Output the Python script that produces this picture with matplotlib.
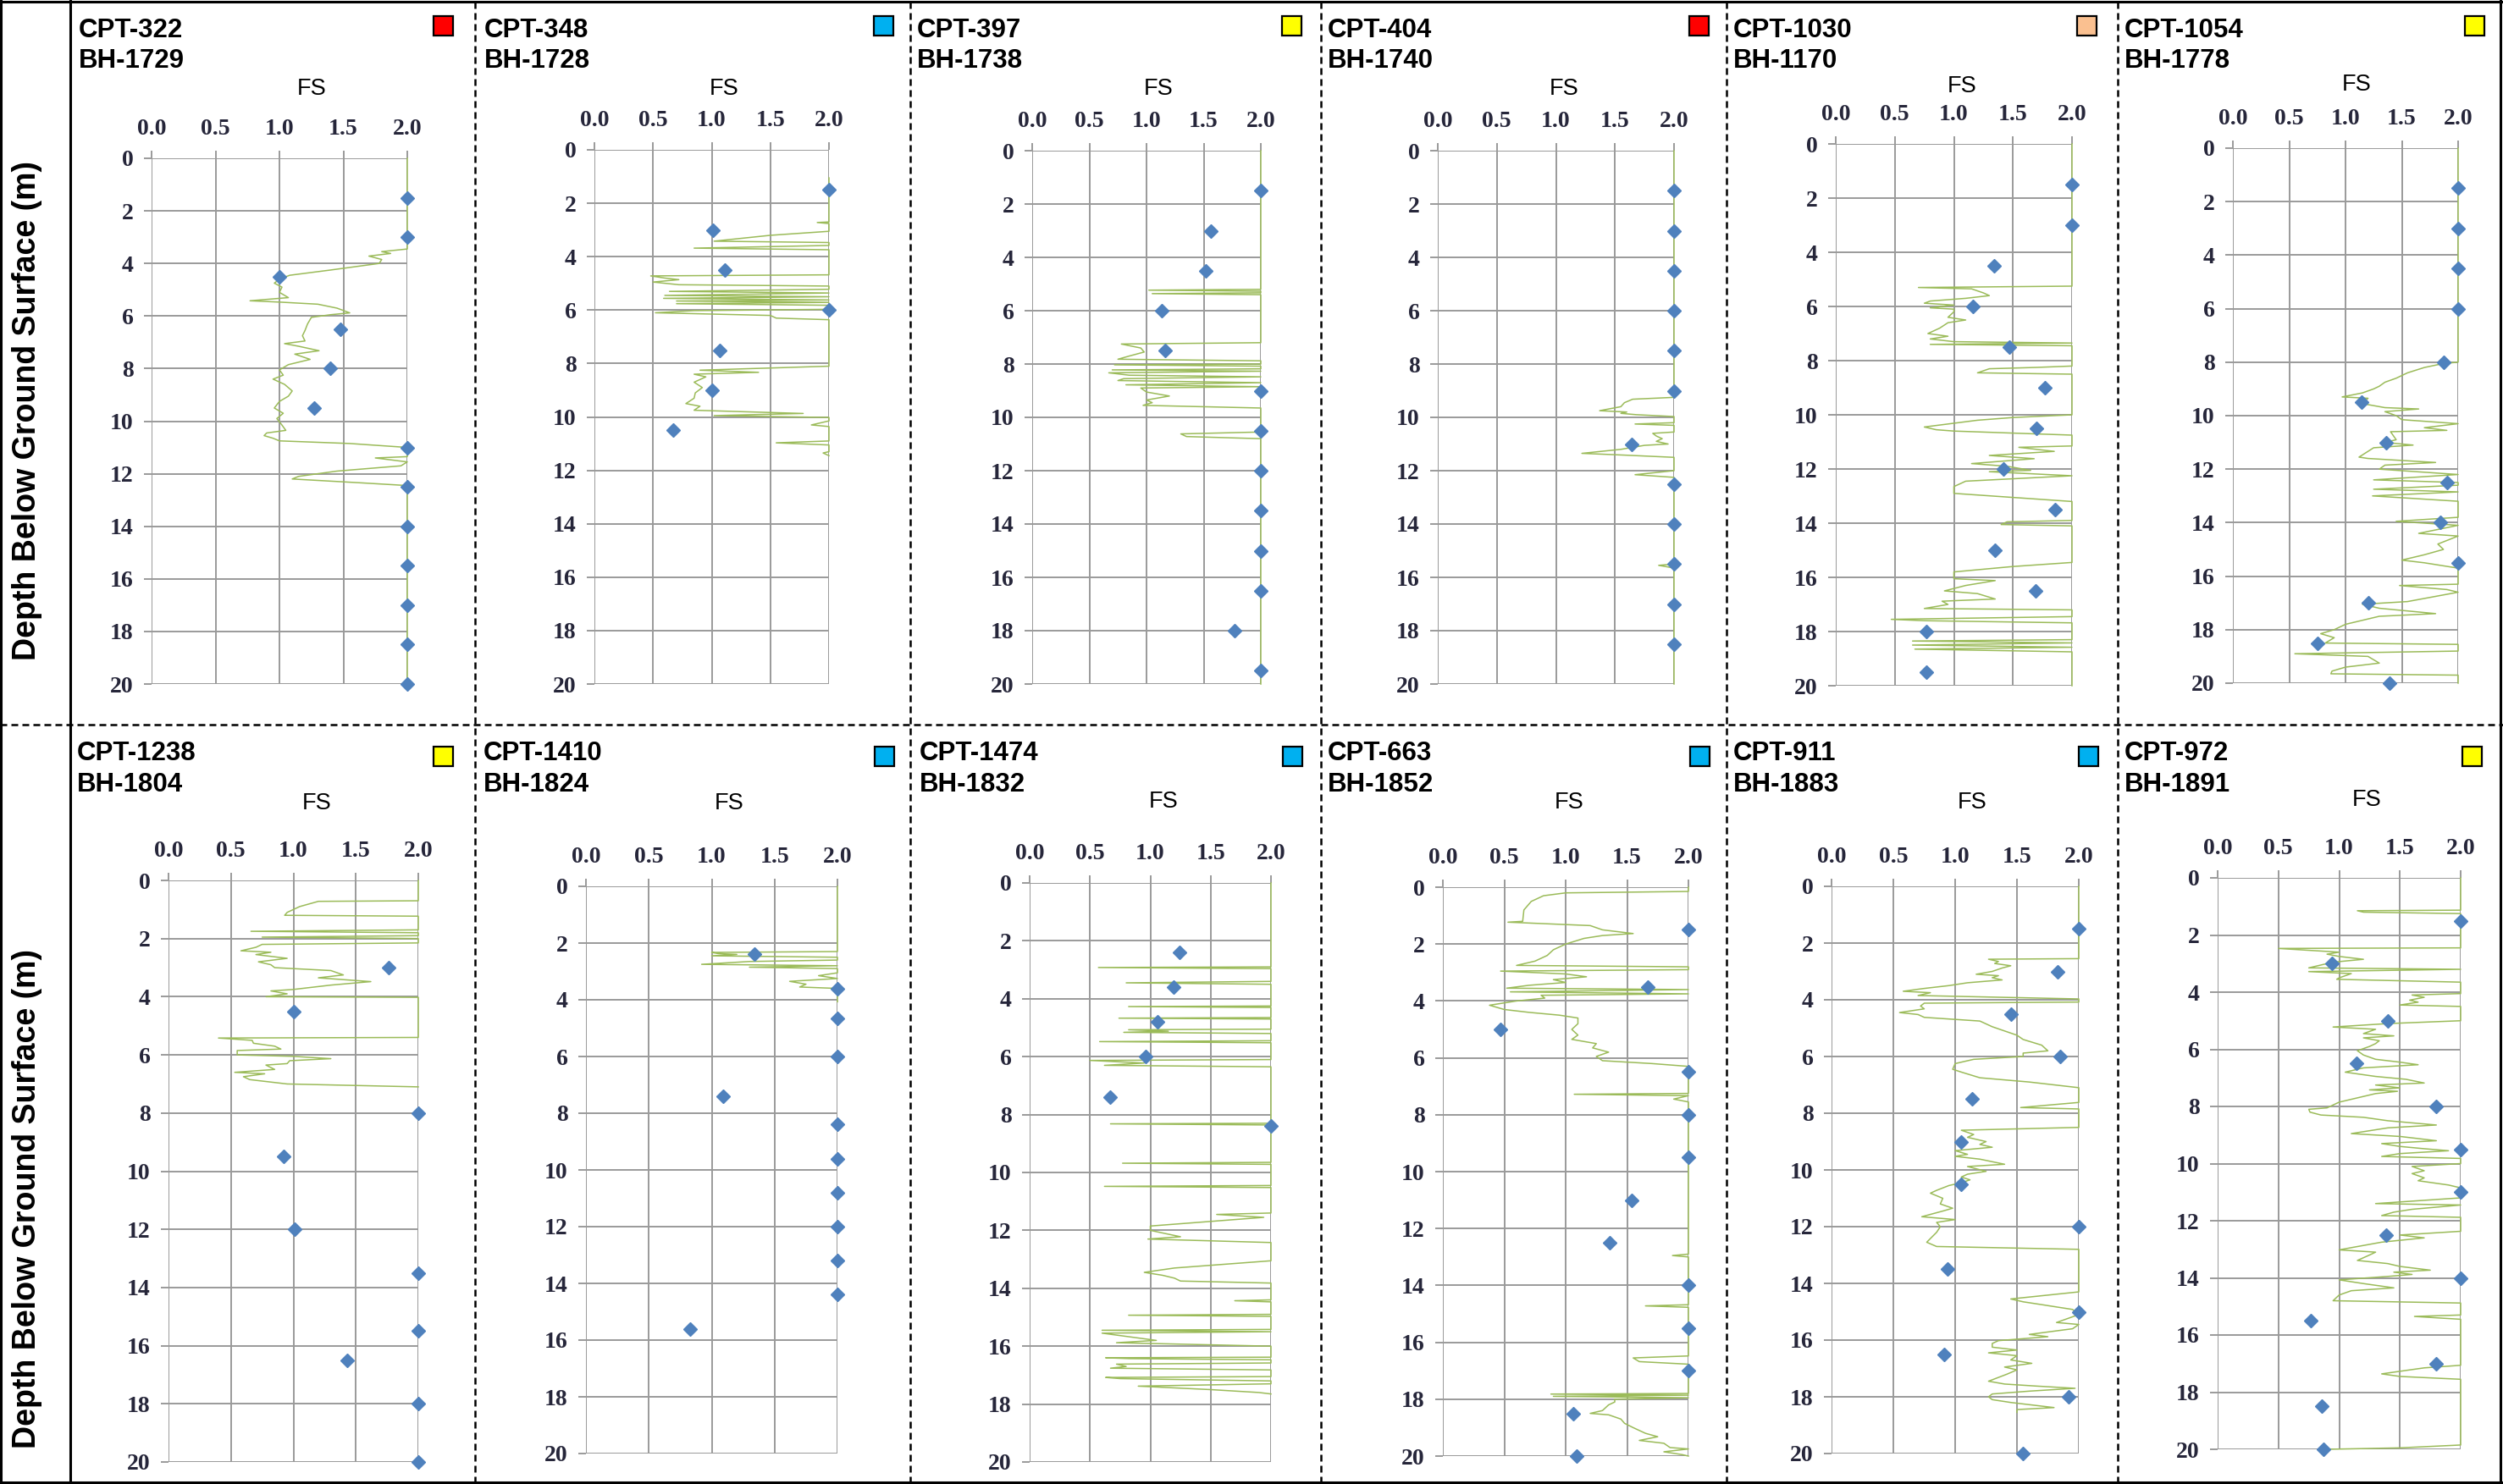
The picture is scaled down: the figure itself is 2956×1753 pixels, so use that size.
"""FS profiles: CPT-based factor of safety vs depth, with borehole (BH) points."""
import matplotlib

matplotlib.use("Agg")
import matplotlib.pyplot as plt
from matplotlib.lines import Line2D
from matplotlib.patches import Rectangle

W, H = 2956, 1753

# ---- data: CPT profiles as (depth m, FS) and borehole points ----
CPT322 = [(0, 2.0), (3.45, 2.0), (3.55, 1.80), (3.62, 1.87), (3.72, 1.70), (3.85, 1.80), (4.0, 1.78),
          (4.25, 1.40), (4.45, 1.08), (4.6, 1.0), (4.75, 0.96), (4.9, 1.02), (5.1, 1.0), (5.3, 1.07),
          (5.42, 0.77), (5.47, 1.0), (5.55, 1.30), (5.7, 1.45), (5.88, 1.55), (5.95, 1.40), (6.05, 1.25),
          (6.3, 1.22), (6.55, 1.20), (6.75, 1.18), (6.95, 1.20), (7.05, 1.04), (7.15, 1.15), (7.32, 1.31),
          (7.45, 1.12), (7.65, 1.24), (7.85, 1.07), (8.05, 1.0), (8.25, 1.03), (8.4, 0.95), (8.6, 1.04),
          (8.85, 1.10), (9.05, 1.07), (9.25, 1.0), (9.5, 0.96), (9.7, 1.03), (9.9, 0.98), (10.15, 1.02),
          (10.35, 1.05), (10.45, 0.90), (10.55, 0.88), (10.65, 0.95), (10.75, 1.0), (10.85, 1.55),
          (11.0, 2.0), (11.35, 2.0), (11.4, 1.75), (11.55, 2.0), (11.7, 1.95), (11.9, 1.45), (12.1, 1.15),
          (12.2, 1.10), (12.35, 1.65), (12.45, 2.0), (20.0, 2.0)]
BH1729_D = [1.5, 3.0, 4.5, 6.5, 8.0, 9.5, 11.0, 12.5, 14.0, 15.5, 17.0, 18.5, 20.0]
BH1729_FS = [2.0, 2.0, 1.0, 1.48, 1.40, 1.27, 2.0, 2.0, 2.0, 2.0, 2.0, 2.0, 2.0]

CPT348 = [(1.05, 2.0), (2.7, 2.0), (2.72, 1.9), (2.76, 2.0), (3.05, 2.0), (3.2, 1.5), (3.42, 1.02),
          (3.47, 2.0), (3.58, 2.0), (3.68, 0.85), (3.74, 2.0), (4.68, 2.0), (4.72, 0.48), (4.8, 0.6),
          (4.86, 0.72), (4.95, 0.5), (5.05, 0.72), (5.1, 2.0), (5.22, 2.0), (5.3, 0.64), (5.36, 2.0),
          (5.45, 0.6), (5.5, 2.0), (5.56, 0.59), (5.62, 2.0), (5.66, 0.7), (5.71, 2.0), (5.76, 0.7),
          (5.82, 2.0), (5.97, 2.0), (6.02, 0.85), (6.1, 0.52), (6.2, 1.5), (6.3, 1.55), (6.36, 2.0),
          (8.1, 2.0), (8.25, 0.9), (8.33, 1.4), (8.4, 0.85), (8.5, 0.95), (8.7, 0.85), (8.9, 0.92),
          (9.1, 0.86), (9.3, 0.85), (9.5, 0.78), (9.6, 0.9), (9.75, 0.85), (9.87, 1.78), (9.95, 1.02),
          (10.02, 2.0), (10.15, 2.0), (10.3, 1.85), (10.36, 2.0), (10.9, 2.0), (10.97, 1.55), (11.05, 2.0),
          (11.3, 2.0), (11.35, 1.95), (11.45, 2.0)]
BH1728_D = [1.5, 3.0, 4.5, 6.0, 7.5, 9.0, 10.5]
BH1728_FS = [2.0, 1.01, 1.11, 2.0, 1.07, 1.0, 0.67]

CPT397 = [(0, 2.0), (5.2, 2.0), (5.23, 1.02), (5.27, 2.0), (5.33, 2.0), (5.36, 1.05), (5.4, 2.0),
          (7.2, 2.0), (7.25, 0.78), (7.4, 0.95), (7.55, 0.98), (7.7, 0.85), (7.82, 0.75), (7.88, 2.0),
          (8.0, 2.0), (8.03, 0.72), (8.08, 2.0), (8.18, 2.0), (8.22, 0.7), (8.27, 2.0), (8.33, 0.67),
          (8.42, 0.85), (8.48, 2.0), (8.55, 0.8), (8.62, 0.75), (8.7, 2.0), (8.78, 0.82), (8.85, 2.0),
          (8.9, 0.95), (9.05, 1.0), (9.2, 1.2), (9.35, 1.0), (9.45, 1.05), (9.55, 0.97), (9.65, 2.0),
          (10.55, 2.0), (10.62, 1.3), (10.72, 1.35), (10.8, 2.0), (20.0, 2.0)]
BH1738_D = [1.5, 3.0, 4.5, 6.0, 7.5, 9.0, 10.5, 12.0, 13.5, 15.0, 16.5, 18.0, 19.5]
BH1738_FS = [2.0, 1.56, 1.52, 1.13, 1.16, 2.0, 2.0, 2.0, 2.0, 2.0, 2.0, 1.77, 2.0]

CPT404 = [(0, 2.0), (9.25, 2.0), (9.32, 1.65), (9.45, 1.58), (9.6, 1.55), (9.75, 1.37), (9.8, 1.6),
          (9.85, 1.55), (9.9, 1.68), (9.97, 2.0), (10.2, 2.0), (10.25, 1.67), (10.3, 2.0), (10.55, 2.0),
          (10.6, 1.82), (10.7, 1.85), (10.8, 1.9), (10.9, 1.85), (11.0, 1.95), (11.05, 1.75), (11.2, 1.55),
          (11.35, 1.22), (11.42, 1.6), (11.5, 2.0), (12.0, 2.0), (12.15, 1.67), (12.25, 2.0), (15.5, 2.0),
          (15.55, 1.87), (15.65, 2.0), (20.0, 2.0)]
BH1740_D = [1.5, 3.0, 4.5, 6.0, 7.5, 9.0, 11.0, 12.5, 14.0, 15.5, 17.0, 18.5]
BH1740_FS = [2.0, 2.0, 2.0, 2.0, 2.0, 2.0, 1.64, 2.0, 2.0, 2.0, 2.0, 2.0]

CPT1030 = [(0, 2.0), (5.25, 2.0), (5.3, 0.7), (5.35, 1.15), (5.5, 1.25), (5.6, 1.3), (5.7, 1.1),
           (5.8, 0.8), (5.88, 0.75), (5.95, 1.0), (6.05, 0.8), (6.1, 1.0), (6.2, 1.0), (6.4, 0.95),
           (6.5, 1.1), (6.6, 0.95), (6.8, 0.88), (7.0, 0.78), (7.1, 0.95), (7.2, 0.8), (7.3, 1.0),
           (7.35, 2.0), (7.4, 0.8), (7.45, 2.0), (8.2, 2.0), (8.25, 1.7), (8.3, 1.3), (8.45, 1.2),
           (8.5, 2.0), (10.0, 2.0), (10.1, 1.5), (10.2, 1.2), (10.45, 0.75), (10.55, 0.85), (10.6, 1.0),
           (10.75, 2.0), (11.15, 2.0), (11.2, 1.55), (11.35, 1.85), (11.5, 1.3), (11.62, 1.68),
           (11.8, 1.15), (11.9, 1.45), (12.05, 1.65), (12.1, 1.3), (12.25, 2.0), (12.45, 1.1),
           (12.65, 1.0), (12.9, 1.0), (13.05, 1.5), (13.2, 2.0), (13.9, 2.0), (13.95, 1.45), (14.05, 1.4),
           (14.1, 2.0), (15.45, 2.0), (15.6, 1.5), (15.8, 1.0), (16.05, 1.0), (16.12, 1.35), (16.3, 1.1),
           (16.5, 0.92), (16.6, 1.2), (16.8, 1.35), (16.88, 0.9), (17.0, 0.95), (17.15, 0.75), (17.2, 2.0),
           (17.45, 2.0), (17.55, 0.47), (17.6, 0.75), (17.68, 2.0), (18.3, 2.0), (18.35, 0.65),
           (18.42, 2.0), (18.5, 0.65), (18.58, 2.0), (18.65, 0.67), (18.75, 2.0), (20.0, 2.0)]
BH1170_D = [1.5, 3.0, 4.5, 6.0, 7.5, 9.0, 10.5, 12.0, 13.5, 15.0, 16.5, 18.0, 19.5]
BH1170_FS = [2.0, 2.0, 1.34, 1.16, 1.47, 1.77, 1.70, 1.42, 1.86, 1.35, 1.69, 0.77, 0.77]

CPT1054 = [(0, 2.0), (8.0, 2.0), (8.05, 1.87), (8.2, 1.7), (8.4, 1.55), (8.6, 1.45), (8.75, 1.35),
           (8.9, 1.3), (9.0, 1.25), (9.15, 1.15), (9.3, 0.97), (9.35, 1.2), (9.55, 1.15), (9.7, 1.35),
           (9.75, 1.65), (9.85, 1.35), (10.0, 1.45), (10.15, 1.5), (10.3, 2.0), (10.45, 1.7), (10.55, 1.9),
           (10.6, 1.4), (10.9, 1.45), (11.0, 1.35), (11.1, 1.6), (11.2, 1.25), (11.55, 1.12), (11.6, 1.2),
           (11.75, 1.8), (11.85, 1.35), (12.0, 1.3), (12.2, 2.0), (12.4, 1.25), (12.5, 2.0), (12.6, 2.0),
           (12.75, 1.25), (12.85, 2.0), (13.0, 1.24), (13.2, 2.0), (13.8, 2.0), (13.95, 1.45), (14.1, 2.0),
           (14.4, 1.65), (14.5, 2.0), (14.8, 1.82), (15.0, 1.87), (15.2, 1.7), (15.4, 1.5), (15.5, 1.7),
           (15.7, 2.0), (16.3, 2.0), (16.35, 1.48), (16.5, 1.9), (16.6, 2.0), (16.95, 1.55), (17.05, 1.15),
           (17.2, 1.3), (17.4, 1.8), (17.5, 1.3), (17.8, 1.0), (18.0, 0.9), (18.15, 0.78), (18.3, 0.9),
           (18.5, 0.82), (18.55, 2.0), (18.8, 2.0), (18.9, 0.55), (19.0, 1.2), (19.25, 1.3), (19.4, 1.0),
           (19.55, 0.88), (19.65, 0.87), (19.7, 2.0), (20.0, 2.0)]
BH1778_D = [1.5, 3.0, 4.5, 6.0, 8.0, 9.5, 11.0, 12.5, 14.0, 15.5, 17.0, 18.5, 20.0]
BH1778_FS = [2.0, 2.0, 2.0, 2.0, 1.87, 1.14, 1.36, 1.90, 1.84, 2.0, 1.20, 0.75, 1.39]

CPT1238 = [(0, 2.0), (0.7, 2.0), (0.72, 1.2), (0.9, 1.05), (1.1, 0.95), (1.2, 0.93), (1.23, 2.0),
           (1.7, 2.0), (1.75, 0.66), (1.8, 2.0), (1.9, 2.0), (1.95, 0.75), (2.0, 2.0), (2.15, 2.0),
           (2.2, 0.75), (2.3, 0.7), (2.42, 0.58), (2.47, 0.82), (2.55, 0.7), (2.68, 0.95), (2.8, 0.72),
           (2.9, 0.82), (3.0, 0.85), (3.1, 1.3), (3.25, 1.4), (3.35, 1.2), (3.48, 1.62), (3.6, 1.3),
           (3.75, 1.0), (3.8, 0.82), (3.9, 0.95), (4.0, 0.78), (4.02, 2.0), (5.4, 2.0), (5.42, 0.4),
           (5.5, 0.67), (5.6, 0.68), (5.7, 0.85), (5.8, 0.9), (5.85, 0.55), (6.0, 0.55), (6.05, 1.0),
           (6.13, 1.3), (6.2, 0.97), (6.3, 0.95), (6.35, 0.78), (6.5, 0.85), (6.6, 0.53), (6.65, 0.77),
           (6.75, 0.6), (6.85, 0.65), (7.0, 0.95), (7.1, 2.0)]
BH1804_D = [3.0, 4.5, 8.0, 9.5, 12.0, 13.5, 15.5, 16.5, 18.0, 20.0]
BH1804_FS = [1.76, 1.0, 2.0, 0.92, 1.01, 2.0, 2.0, 1.43, 2.0, 2.0]

CPT1410 = [(0, 2.0), (2.3, 2.0), (2.33, 1.0), (2.37, 1.05), (2.4, 1.2), (2.45, 1.0), (2.5, 2.0),
           (2.6, 2.0), (2.65, 1.3), (2.75, 0.92), (2.8, 2.0), (2.85, 1.3), (2.9, 2.0), (3.05, 2.0),
           (3.15, 1.85), (3.25, 2.0), (3.35, 1.62), (3.45, 1.75), (3.55, 1.7), (3.6, 2.0), (4.07, 2.0)]
BH1824_D = [2.4, 3.6, 4.65, 6.0, 7.4, 8.4, 9.6, 10.8, 12.0, 13.2, 14.4, 15.6]
BH1824_FS = [1.34, 2.0, 2.0, 2.0, 1.09, 2.0, 2.0, 2.0, 2.0, 2.0, 2.0, 0.83]

CPT1474 = [(0, 2.0), (2.9, 2.0), (2.92, 0.57), (2.96, 2.0), (3.4, 2.0), (3.45, 0.8), (3.5, 2.0),
           (4.25, 2.0), (4.27, 0.82), (4.3, 2.0), (4.65, 2.0), (4.67, 0.74), (4.7, 2.0), (5.05, 2.0),
           (5.07, 0.82), (5.12, 1.15), (5.16, 0.78), (5.2, 2.0), (5.45, 2.0), (5.48, 0.58), (5.52, 2.0),
           (6.1, 2.0), (6.13, 0.5), (6.22, 0.95), (6.3, 0.62), (6.35, 2.0), (8.3, 2.0), (8.32, 0.67),
           (8.36, 2.0), (9.65, 2.0), (9.68, 0.77), (9.72, 2.0), (10.45, 2.0), (10.48, 0.62), (10.52, 2.0),
           (11.4, 2.0), (11.45, 1.55), (11.55, 1.94), (11.85, 1.0), (12.0, 1.0), (12.22, 1.25),
           (12.3, 0.98), (12.42, 2.0), (13.05, 2.0), (13.3, 1.2), (13.45, 0.95), (13.55, 1.1), (13.65, 1.2),
           (13.75, 1.25), (13.82, 2.0), (14.4, 2.0), (14.43, 1.7), (14.47, 2.0), (14.9, 2.0), (14.93, 0.82),
           (14.97, 2.0), (15.42, 2.0), (15.45, 0.6), (15.5, 2.0), (15.55, 0.6), (15.8, 1.05), (15.88, 0.72),
           (16.0, 2.0), (16.38, 2.0), (16.4, 0.63), (16.43, 0.83), (16.47, 2.0), (16.58, 2.0), (16.62, 0.72),
           (16.7, 0.8), (16.76, 0.67), (16.82, 2.0), (17.05, 2.0), (17.08, 0.63), (17.12, 0.75), (17.2, 2.0),
           (17.3, 2.0), (17.38, 0.9), (17.5, 1.5), (17.6, 1.9), (17.65, 2.0)]
BH1832_D = [2.4, 3.6, 4.8, 6.0, 7.4, 8.4]
BH1832_FS = [1.24, 1.19, 1.06, 0.96, 0.67, 2.0]

CPT663 = [(0, 2.0), (0.15, 2.0), (0.2, 1.0), (0.3, 0.82), (0.5, 0.72), (0.8, 0.66), (1.2, 0.65),
          (1.23, 0.53), (1.35, 1.2), (1.5, 1.3), (1.63, 1.55), (1.7, 1.3), (1.8, 1.15), (2.0, 1.0),
          (2.2, 0.9), (2.4, 0.85), (2.6, 0.75), (2.75, 0.6), (2.8, 2.0), (2.9, 2.0), (2.95, 0.47),
          (3.05, 1.0), (3.15, 1.17), (3.25, 0.9), (3.35, 1.0), (3.45, 0.7), (3.55, 0.52), (3.6, 2.0),
          (3.68, 0.55), (3.75, 2.0), (3.8, 0.8), (3.9, 0.83), (4.0, 0.6), (4.15, 0.38), (4.3, 0.5),
          (4.4, 0.7), (4.5, 0.95), (4.6, 1.1), (4.8, 1.1), (5.0, 1.05), (5.2, 1.1), (5.35, 1.05),
          (5.5, 1.25), (5.65, 1.22), (5.8, 1.35), (5.95, 1.25), (6.1, 1.3), (6.2, 1.7), (6.3, 2.0),
          (7.25, 2.0), (7.28, 1.07), (7.33, 2.0), (7.45, 1.88), (7.55, 2.0), (12.9, 2.0), (12.95, 1.87),
          (13.0, 2.0), (14.68, 2.0), (14.72, 1.65), (14.77, 2.0), (16.48, 2.0), (16.55, 1.55),
          (16.68, 1.6), (16.77, 2.0), (17.8, 2.0), (17.82, 0.88), (17.86, 2.0), (17.9, 0.9), (17.95, 2.0),
          (18.0, 1.4), (18.1, 1.4), (18.2, 1.35), (18.4, 1.3), (18.5, 1.2), (18.55, 1.35), (18.7, 1.45),
          (18.85, 1.48), (19.0, 1.55), (19.2, 1.65), (19.32, 1.75), (19.45, 1.6), (19.55, 1.8),
          (19.7, 1.85), (19.75, 2.0), (19.85, 1.8), (19.95, 1.95), (20.0, 2.0)]
BH1852_D = [1.5, 3.5, 5.0, 6.5, 8.0, 9.5, 11.0, 12.5, 14.0, 15.5, 17.0, 18.5, 20.0]
BH1852_FS = [2.0, 1.67, 0.47, 2.0, 2.0, 2.0, 1.54, 1.36, 2.0, 2.0, 2.0, 1.06, 1.09]

CPT911 = [(0, 2.0), (2.55, 2.0), (2.57, 1.27), (2.65, 1.35), (2.72, 1.32), (2.8, 1.45), (2.88, 1.38),
          (3.0, 1.3), (3.1, 1.17), (3.15, 1.35), (3.22, 1.3), (3.3, 1.38), (3.4, 1.1), (3.5, 0.95),
          (3.6, 0.75), (3.7, 0.58), (3.75, 0.8), (3.85, 0.7), (3.97, 2.0), (4.08, 2.0), (4.12, 0.75),
          (4.22, 0.72), (4.32, 0.75), (4.45, 0.55), (4.52, 0.7), (4.62, 0.75), (4.75, 1.2), (4.85, 1.25),
          (4.95, 1.3), (5.1, 1.4), (5.25, 1.5), (5.4, 1.55), (5.6, 1.7), (5.8, 1.75), (5.88, 1.55),
          (6.0, 1.55), (6.1, 1.15), (6.25, 1.0), (6.45, 0.98), (6.55, 1.05), (6.75, 1.2), (6.9, 1.6),
          (7.1, 2.0), (7.62, 2.0), (7.8, 1.53), (7.85, 2.0), (8.5, 2.0), (8.6, 1.05), (8.75, 1.15),
          (8.85, 1.1), (9.0, 1.25), (9.1, 1.2), (9.2, 1.3), (9.32, 1.0), (9.45, 1.1), (9.52, 1.0),
          (9.62, 1.2), (9.8, 1.4), (9.88, 1.1), (10.05, 1.25), (10.15, 1.1), (10.25, 1.05), (10.35, 1.12),
          (10.45, 1.05), (10.55, 0.95), (10.72, 0.85), (10.82, 0.8), (11.0, 0.9), (11.2, 0.88),
          (11.35, 0.98), (11.45, 0.9), (11.65, 0.73), (11.75, 1.0), (11.85, 0.85), (12.0, 0.88),
          (12.2, 0.85), (12.55, 0.77), (12.7, 0.85), (12.8, 2.0), (14.3, 2.0), (14.55, 1.45),
          (14.65, 1.55), (14.75, 1.7), (14.92, 1.95), (15.1, 2.0), (15.38, 1.82), (15.45, 2.0),
          (15.6, 1.95), (15.8, 1.6), (15.88, 1.75), (16.02, 1.35), (16.12, 1.3), (16.25, 1.3),
          (16.35, 1.5), (16.45, 1.27), (16.55, 1.5), (16.7, 1.45), (16.82, 1.62), (16.95, 1.4),
          (17.05, 1.5), (17.2, 1.42), (17.45, 1.27), (17.55, 1.4), (17.62, 1.65), (17.7, 1.97),
          (17.8, 1.6), (17.9, 1.3), (18.0, 1.27), (18.1, 1.3), (18.2, 1.45), (18.38, 1.8), (18.45, 1.5),
          (18.55, 1.5)]
BH1883_D = [1.5, 3.0, 4.5, 6.0, 7.5, 9.0, 10.5, 12.0, 13.5, 15.0, 16.5, 18.0, 20.0]
BH1883_FS = [2.0, 1.83, 1.45, 1.85, 1.14, 1.05, 1.05, 2.0, 0.94, 2.0, 0.91, 1.92, 1.55]

CPT972 = [(0, 2.0), (1.13, 2.0), (1.15, 1.15), (1.2, 1.2), (1.25, 2.0), (2.45, 2.0), (2.47, 0.5),
          (2.6, 1.0), (2.67, 0.9), (2.75, 1.0), (2.85, 1.2), (2.95, 0.95), (3.15, 0.75), (3.2, 2.0),
          (3.28, 0.75), (3.35, 1.1), (3.5, 1.0), (3.55, 0.98), (3.65, 2.0), (4.05, 2.0), (4.1, 1.6),
          (4.18, 1.7), (4.28, 1.58), (4.35, 1.65), (4.45, 1.5), (4.5, 2.0), (5.0, 2.0), (5.1, 1.4),
          (5.22, 0.95), (5.3, 1.3), (5.45, 1.2), (5.53, 1.45), (5.6, 1.2), (5.7, 1.33), (5.8, 1.3),
          (5.9, 1.25), (6.05, 1.15), (6.2, 1.2), (6.35, 1.3), (6.45, 1.5), (6.54, 1.65), (6.65, 1.2),
          (6.8, 1.05), (6.95, 1.3), (7.05, 1.55), (7.18, 1.7), (7.25, 1.3), (7.35, 1.5), (7.42, 1.25),
          (7.47, 1.48), (7.55, 1.3), (7.7, 1.15), (7.85, 1.0), (7.95, 0.95), (8.05, 0.9), (8.1, 0.75),
          (8.2, 0.76), (8.3, 0.85), (8.38, 1.2), (8.5, 1.4), (8.65, 1.8), (8.75, 1.4), (8.95, 1.1),
          (9.05, 1.5), (9.2, 1.8), (9.3, 1.35), (9.4, 1.5), (9.48, 1.7), (9.55, 1.9), (9.65, 1.5),
          (9.75, 1.35), (9.82, 2.0), (10.0, 2.0), (10.1, 1.6), (10.25, 1.7), (10.35, 1.6), (10.5, 1.7),
          (10.6, 1.65), (10.75, 1.9), (10.85, 2.0), (11.2, 2.0), (11.4, 1.3), (11.45, 2.0), (11.6, 1.6),
          (11.7, 1.45), (11.82, 1.35), (11.88, 2.0), (12.37, 2.0), (12.5, 1.5), (12.6, 1.7), (12.75, 1.35),
          (13.02, 1.0), (13.1, 1.3), (13.2, 1.25), (13.39, 1.15), (13.5, 1.4), (13.6, 1.5), (13.73, 1.75),
          (13.8, 1.45), (13.88, 1.6), (13.95, 1.4), (14.07, 1.0), (14.2, 1.2), (14.35, 1.45), (14.45, 1.1),
          (14.6, 1.0), (14.8, 0.95), (14.88, 2.0), (15.3, 2.0), (15.35, 1.62), (15.45, 2.0), (17.06, 2.0),
          (17.15, 1.7), (17.36, 1.35), (17.45, 1.5), (17.55, 2.0), (19.85, 2.0), (19.95, 1.5), (20.0, 0.9)]
BH1891_D = [1.5, 3.0, 5.0, 6.5, 8.0, 9.5, 11.0, 12.5, 14.0, 15.5, 17.0, 18.5, 20.0]
BH1891_FS = [2.0, 0.94, 1.40, 1.14, 1.80, 2.0, 2.0, 1.39, 2.0, 0.77, 1.80, 0.86, 0.87]

RED, BLUE_FLAG, YELLOW, PEACH = "#ff0000", "#00b0f0", "#ffff00", "#fac090"

# (cpt name, bh name, cpt profile, bh depths, bh FS, flag colour)
PANELS = [
    ("CPT-322", "BH-1729", CPT322, BH1729_D, BH1729_FS, RED),
    ("CPT-348", "BH-1728", CPT348, BH1728_D, BH1728_FS, BLUE_FLAG),
    ("CPT-397", "BH-1738", CPT397, BH1738_D, BH1738_FS, YELLOW),
    ("CPT-404", "BH-1740", CPT404, BH1740_D, BH1740_FS, RED),
    ("CPT-1030", "BH-1170", CPT1030, BH1170_D, BH1170_FS, PEACH),
    ("CPT-1054", "BH-1778", CPT1054, BH1778_D, BH1778_FS, YELLOW),
    ("CPT-1238", "BH-1804", CPT1238, BH1804_D, BH1804_FS, YELLOW),
    ("CPT-1410", "BH-1824", CPT1410, BH1824_D, BH1824_FS, BLUE_FLAG),
    ("CPT-1474", "BH-1832", CPT1474, BH1832_D, BH1832_FS, BLUE_FLAG),
    ("CPT-663", "BH-1852", CPT663, BH1852_D, BH1852_FS, BLUE_FLAG),
    ("CPT-911", "BH-1883", CPT911, BH1883_D, BH1883_FS, BLUE_FLAG),
    ("CPT-972", "BH-1891", CPT972, BH1891_D, BH1891_FS, YELLOW),
]

# ---- layout, in pixels of the 2956x1753 canvas ----
# plot area of each panel: left, right, top, bottom
AX_BOX = [(179, 481, 187, 808), (702, 979, 177, 808), (1219, 1489, 178, 808),
          (1698, 1977, 178, 808), (2168, 2447, 170, 810), (2637, 2903, 175, 807),
          (199, 494, 1040, 1727), (692, 989, 1047, 1717), (1216, 1501, 1043, 1727),
          (1704, 1994, 1048, 1720), (2163, 2455, 1047, 1717), (2619, 2906, 1037, 1712)]
TITLE_X = [93, 572, 1083, 1568, 2047, 2509, 91, 571, 1086, 1568, 2047, 2509]
FS_X = [368, 855, 1368, 1847, 2317, 2783, 374, 861, 1374, 1853, 2329, 2795]
FS_Y = [112, 112, 112, 112, 109, 107, 956, 956, 954, 955, 955, 952]
FLAG_X = [512, 1032, 1514, 1995, 2453, 2911, 512, 1033, 1515, 1996, 2455, 2908]

GREEN = "#9bbb59"
DIAMOND = "#4f81bd"
GRID = "#9a9a9a"
TICK_TXT = "#26263a"


def fx(x):
    return x / W


def fy(y):
    return 1 - y / H


fig = plt.figure(figsize=(W / 100, H / 100), dpi=100)
fig.patch.set_facecolor("white")

for i, (cpt, bh, prof, bh_d, bh_fs, flag) in enumerate(PANELS):
    l, r, t, b = AX_BOX[i]
    ax = fig.add_axes([fx(l), fy(b), (r - l) / W, (b - t) / H])
    depth = [p[0] for p in prof]
    fs = [p[1] for p in prof]
    ax.plot(fs, depth, color=GREEN, lw=1.1, zorder=3, clip_on=False)
    ax.plot(bh_fs, bh_d, ls="none", marker="D", ms=8.5, color=DIAMOND, mec=DIAMOND,
            zorder=4, clip_on=False)
    ax.set_xlim(0, 2)
    ax.set_ylim(20, 0)
    ax.xaxis.tick_top()
    xt = [0, 0.5, 1.0, 1.5, 2.0]
    ax.set_xticks(xt)
    ax.set_xticklabels([f"{v:.1f}" for v in xt], fontfamily="Liberation Serif",
                       fontweight="bold", fontsize=20, color=TICK_TXT)
    yt = list(range(0, 21, 2))
    ax.set_yticks(yt)
    ax.set_yticklabels([str(v) for v in yt], fontfamily="Liberation Serif",
                       fontweight="bold", fontsize=20, color=TICK_TXT)
    ax.tick_params(axis="both", length=6.5, width=1.4, color=GRID, pad=9)
    ax.grid(True, color=GRID, lw=1.4)
    ax.set_axisbelow(True)
    for s in ax.spines.values():
        s.set_visible(False)

    top = i < 6
    base_cpt = 44 if top else 898
    base_bh = 80 if top else 935
    fig.text(fx(TITLE_X[i]), fy(base_cpt), cpt, fontsize=22.5, fontweight="bold",
             family="Liberation Sans", va="baseline", ha="left")
    fig.text(fx(TITLE_X[i]), fy(base_bh), bh, fontsize=22.5, fontweight="bold",
             family="Liberation Sans", va="baseline", ha="left")
    fig.text(fx(FS_X[i]), fy(FS_Y[i]), "FS", fontsize=19.5, family="Liberation Sans",
             va="baseline", ha="center")
    ftop = 19 if top else 882
    fig.add_artist(Rectangle((fx(FLAG_X[i]), fy(ftop + 23)), 23 / W, 23 / H,
                             transform=fig.transFigure, facecolor=flag,
                             edgecolor="black", lw=1.6))

# shared y labels
for yc in (485, 1416):
    fig.text(fx(32), fy(yc), "Depth Below Ground Surface (m)", rotation=90,
             fontsize=27, fontweight="bold", family="Liberation Sans",
             ha="center", va="center")

# frame: solid outer box + strip line, dashed panel separators
solid = dict(color="black", lw=2.2, transform=fig.transFigure)
dashed = dict(color="black", lw=1.8, ls=(0, (3.2, 2.0)), transform=fig.transFigure)
fig.add_artist(Line2D([0, 1], [fy(2), fy(2)], **solid))
fig.add_artist(Line2D([0, 1], [fy(1751), fy(1751)], **solid))
fig.add_artist(Line2D([fx(1), fx(1)], [0, 1], **solid))
fig.add_artist(Line2D([fx(2953), fx(2953)], [0, 1], **solid))
fig.add_artist(Line2D([fx(83), fx(83)], [0, 1], **solid))
fig.add_artist(Line2D([0, 1], [fy(856), fy(856)], **dashed))
for xs in (561, 1075, 1560, 2039, 2501):
    fig.add_artist(Line2D([fx(xs), fx(xs)], [fy(2), fy(1751)], **dashed))

fig.savefig("out.png", dpi=100, facecolor="white")
